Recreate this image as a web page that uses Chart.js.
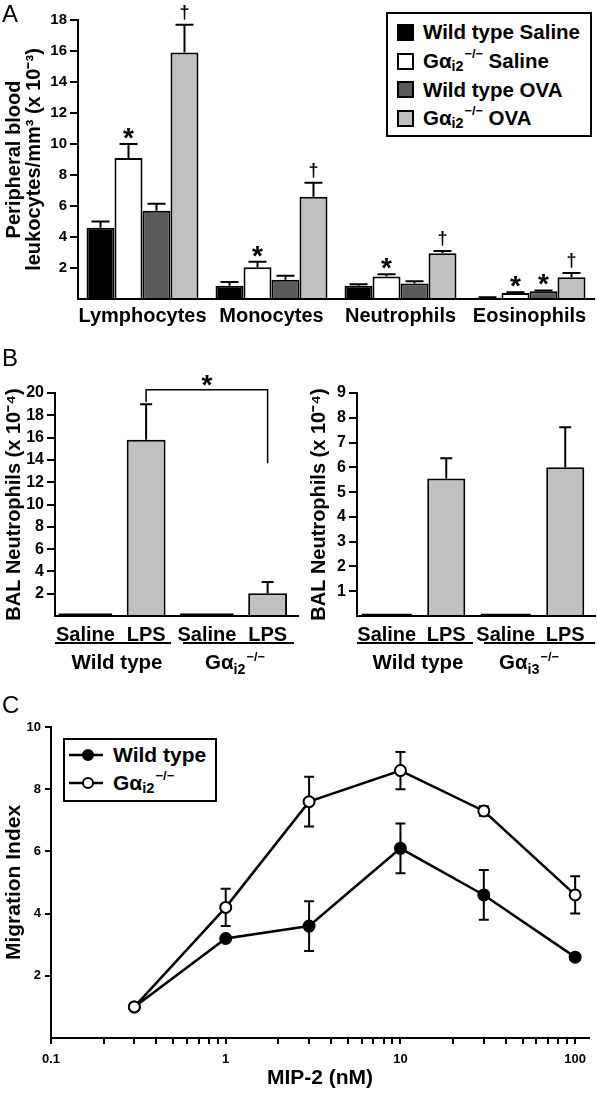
<!DOCTYPE html>
<html>
<head>
<meta charset="utf-8">
<script src="https://cdn.jsdelivr.net/npm/chart.js@4.4.1/dist/chart.umd.min.js"></script>
<style>
  body { margin: 0; background: #fff; }
  #page { position: relative; width: 597px; height: 1093px; overflow: hidden;
          font-family: 'Liberation Sans', Arial, Helvetica, sans-serif; font-weight: bold; color: #000; }
  canvas { position: absolute; }
  .t { position: absolute; white-space: nowrap; line-height: 1; }
  .c { transform: translateX(-50%); }
  .letter { font-weight: normal; font-size: 24px; line-height: 24px; }
  .rule { position: absolute; height: 2px; background: #000; }
  .legend { position: absolute; border: 2px solid #000; background: #fff; }
  .row { position: absolute; display: flex; align-items: center; white-space: nowrap; }
  .sw { display: inline-block; width: 13px; height: 13px; border: 2px solid #000; margin-right: 9px; }
  .sub { position: relative; top: 5px; font-size: 0.7em; }
  .sup { position: relative; top: -8px; font-size: 0.62em; margin-left: 1px; }
</style>
</head>
<body>
<div id="page">
  <canvas id="chartA" width="597" height="330" style="left:0;top:0"></canvas>
  <canvas id="chartB1" width="300" height="350" style="left:0;top:330px"></canvas>
  <canvas id="chartB2" width="297" height="350" style="left:300px;top:330px"></canvas>
  <canvas id="chartC" width="597" height="403" style="left:0;top:690px"></canvas>

  <div class="t letter" style="left:2px;top:2px">A</div>
  <div class="t letter" style="left:2px;top:346px">B</div>
  <div class="t letter" style="left:2px;top:693px">C</div>

  <div class="legend" style="left:386px;top:12px;width:202px;height:121px">
    <div class="row" style="left:9px;top:4px;height:28.7px;font-size:20.5px"><span class="sw" style="background:#000"></span>Wild type Saline</div>
    <div class="row" style="left:9px;top:32.7px;height:28.7px;font-size:20.5px"><span class="sw" style="background:#fff"></span>G<span>α</span><span class="sub">i2</span><span class="sup">−/−</span>&nbsp;Saline</div>
    <div class="row" style="left:9px;top:61.4px;height:28.7px;font-size:20.5px"><span class="sw" style="background:#5a5a5a"></span>Wild type OVA</div>
    <div class="row" style="left:9px;top:90.1px;height:28.7px;font-size:20.5px"><span class="sw" style="background:#c0c0c0"></span>G<span>α</span><span class="sub">i2</span><span class="sup">−/−</span>&nbsp;OVA</div>
  </div>

  <div class="rule" style="left:55px;top:642px;width:116px"></div>
  <div class="rule" style="left:183px;top:642px;width:111px"></div>
  <div class="rule" style="left:357px;top:642px;width:116px"></div>
  <div class="rule" style="left:484px;top:642px;width:111px"></div>
  <div class="t c" style="left:117px;top:652px;font-size:20.5px">Wild type</div>
  <div class="t c" style="left:235px;top:652px;font-size:20.5px">G<span>α</span><span class="sub">i2</span><span class="sup">−/−</span></div>
  <div class="t c" style="left:418px;top:652px;font-size:20.5px">Wild type</div>
  <div class="t c" style="left:529px;top:652px;font-size:20.5px">G<span>α</span><span class="sub">i3</span><span class="sup">−/−</span></div>

  <div class="legend" style="left:63px;top:738px;width:150px;height:60px">
    <div class="row" style="left:4px;top:1px;height:28px;font-size:21px">
      <svg width="36" height="14" style="margin-right:8px"><line x1="0" y1="7" x2="34" y2="7" stroke="#000" stroke-width="2.5"/><circle cx="19" cy="7" r="5" fill="#000" stroke="#000" stroke-width="2"/></svg>Wild type</div>
    <div class="row" style="left:4px;top:29px;height:28px;font-size:21px">
      <svg width="36" height="14" style="margin-right:8px"><line x1="0" y1="7" x2="34" y2="7" stroke="#000" stroke-width="2.5"/><circle cx="19" cy="7" r="5" fill="#fff" stroke="#000" stroke-width="2"/></svg>G<span>α</span><span class="sub">i2</span><span class="sup">−/−</span></div>
  </div>
</div>

<script>
// panel A: peripheral blood leukocytes (x 10^-3 / mm3)
const groups = ['Lymphocytes', 'Monocytes', 'Neutrophils', 'Eosinophils'];
const wtSaline = [4.6, 0.85, 0.85, 0.08];
const wtSalineSem = [0.4, 0.25, 0.1, 0.03];
const koSaline = [9.1, 2.05, 1.45, 0.38];
const koSalineSem = [0.9, 0.35, 0.15, 0.05];
const wtOva = [5.7, 1.25, 1.0, 0.5];
const wtOvaSem = [0.45, 0.25, 0.15, 0.05];
const koOva = [15.9, 6.6, 2.95, 1.4];
const koOvaSem = [1.8, 0.9, 0.15, 0.28];
const koSalineMarks = ['*', '*', '*', '*'];
const wtOvaMarks = ['', '', '', '*'];
const koOvaMarks = ['†', '†', '†', '†'];

// panel B: BAL neutrophils (x 10^-4)
const balLabels = ['Saline', 'LPS', 'Saline', 'LPS'];
const balI2 = [0.22, 15.8, 0.22, 2.05];
const balI2Sem = [0, 3.2, 0, 1.0];
const balI3 = [0.09, 5.55, 0.09, 6.0];
const balI3Sem = [0, 0.82, 0, 1.62];

// panel C: migration index vs MIP-2 (nM)
const doses = [0.3, 1, 3, 10, 30, 100];
const wtMigration = [1.0, 3.2, 3.6, 6.1, 4.6, 2.6];
const wtMigrationSem = [0, 0, 0.8, 0.8, 0.8, 0];
const koMigration = [1.0, 4.2, 7.6, 8.6, 7.3, 4.6];
const koMigrationSem = [0, 0.6, 0.8, 0.6, 0.15, 0.6];

const FONT = "'Liberation Sans', Arial, Helvetica, sans-serif";
Chart.defaults.font.family = FONT;
Chart.defaults.font.weight = 'bold';
Chart.defaults.color = '#000';

function valueOf(v) {
  return (v !== null && typeof v === 'object') ? v.y : v;
}

function drawErrors(chart, mode) {
  const ctx = chart.ctx;
  const y = chart.scales.y;
  chart.data.datasets.forEach((ds, di) => {
    if (!ds.sem || (ds.errMode || 'up') !== mode) return;
    const meta = chart.getDatasetMeta(di);
    meta.data.forEach((el, i) => {
      const v = valueOf(ds.data[i]);
      const s = ds.sem[i];
      if (v == null || !s) return;
      const cap = ds.capHalf || 6;
      const top = y.getPixelForValue(v + s);
      const bottom = y.getPixelForValue(mode === 'both' ? v - s : v);
      ctx.save();
      ctx.strokeStyle = '#000';
      ctx.lineWidth = 2;
      ctx.beginPath();
      ctx.moveTo(el.x, top);
      ctx.lineTo(el.x, bottom);
      ctx.moveTo(el.x - cap, top);
      ctx.lineTo(el.x + cap, top);
      if (mode === 'both') {
        ctx.moveTo(el.x - cap, bottom);
        ctx.lineTo(el.x + cap, bottom);
      }
      ctx.stroke();
      ctx.restore();
    });
  });
}

const errorBars = {
  id: 'errorBars',
  beforeDatasetsDraw(chart) { drawErrors(chart, 'both'); },
  afterDatasetsDraw(chart) { drawErrors(chart, 'up'); }
};

const sigMarks = {
  id: 'sigMarks',
  afterDatasetsDraw(chart) {
    const ctx = chart.ctx;
    const y = chart.scales.y;
    chart.data.datasets.forEach((ds, di) => {
      if (!ds.marks) return;
      const meta = chart.getDatasetMeta(di);
      meta.data.forEach((el, i) => {
        const m = ds.marks[i];
        if (!m) return;
        const centre = y.getPixelForValue(ds.data[i] + (ds.sem ? ds.sem[i] : 0)) - 13;
        ctx.save();
        ctx.textAlign = 'center';
        ctx.textBaseline = 'alphabetic';
        if (m === '*') {
          ctx.font = 'bold 28px ' + FONT;
          ctx.fillText(m, el.x, centre + 16);
        } else {
          ctx.font = 'bold 18px ' + FONT;
          ctx.fillText(m, el.x, centre + 6);
        }
        ctx.restore();
      });
    });
  }
};

const bracket = {
  id: 'bracket',
  afterDatasetsDraw(chart, args, opts) {
    if (opts.from === undefined) return;
    const ctx = chart.ctx;
    const x = chart.scales.x;
    const y = chart.scales.y;
    const x1 = x.getPixelForValue(opts.from);
    const x2 = x.getPixelForValue(opts.to);
    const top = y.getPixelForValue(opts.top);
    ctx.save();
    ctx.strokeStyle = '#000';
    ctx.lineWidth = 1.5;
    ctx.beginPath();
    ctx.moveTo(x1, y.getPixelForValue(opts.leftEnd));
    ctx.lineTo(x1, top);
    ctx.lineTo(x2, top);
    ctx.lineTo(x2, y.getPixelForValue(opts.rightEnd));
    ctx.stroke();
    ctx.font = 'bold 28px ' + FONT;
    ctx.textAlign = 'center';
    ctx.fillText(opts.mark, (x1 + x2) / 2, top - 12 + 16);
    ctx.restore();
  }
};

function yAxis(max, step, width, title, titleFont, titlePad, tickFont) {
  return {
    min: 0,
    max: max,
    afterFit(scale) { scale.width = width; },
    border: { display: true, color: '#000', width: 2 },
    grid: {
      drawOnChartArea: false,
      drawTicks: true,
      tickLength: 8,
      lineWidth: 2,
      tickColor: (c) => (c.tick && c.tick.value === 0) ? 'rgba(0,0,0,0)' : '#000'
    },
    ticks: {
      stepSize: step,
      padding: 3,
      font: { size: tickFont, weight: 'bold' },
      callback: (v) => v === 0 ? '' : v
    },
    title: {
      display: true,
      text: title,
      font: titleFont,
      padding: { top: titlePad, bottom: 0 }
    }
  };
}

const baseOptions = {
  responsive: false,
  devicePixelRatio: 1,
  animation: false,
  events: [],
  plugins: { legend: { display: false }, tooltip: { enabled: false } }
};

// ---- panel A
new Chart(document.getElementById('chartA').getContext('2d'), {
  type: 'bar',
  data: {
    labels: groups,
    datasets: [
      { data: wtSaline, sem: wtSalineSem, backgroundColor: '#000', capHalf: 9 },
      { data: koSaline, sem: koSalineSem, marks: koSalineMarks, backgroundColor: '#fff', capHalf: 9 },
      { data: wtOva, sem: wtOvaSem, marks: wtOvaMarks, backgroundColor: '#5a5a5a', capHalf: 9 },
      { data: koOva, sem: koOvaSem, marks: koOvaMarks, backgroundColor: '#c0c0c0', capHalf: 9 }
    ]
  },
  options: {
    ...baseOptions,
    layout: { padding: { top: 20, right: 3, left: 0, bottom: 0 } },
    datasets: {
      bar: { borderColor: '#000', borderWidth: 2, categoryPercentage: 0.868, barPercentage: 1 }
    },
    scales: {
      x: {
        afterFit(scale) { scale.height = 31; },
        border: { display: true, color: '#000', width: 2 },
        grid: { display: false, drawTicks: false },
        ticks: { padding: 5, maxRotation: 0, autoSkip: false, font: { size: 20, weight: 'bold' } }
      },
      y: yAxis(18, 2, 78, ['Peripheral blood', 'leukocytes/mm³ (x 10⁻³)'],
        { size: 20, weight: 'bold', lineHeight: 1.0 }, 4, 15)
    }
  },
  plugins: [errorBars, sigMarks]
});

// ---- panel B
function balChart(id, values, sem, max, step, width, titlePad, wide, extra) {
  const saline = values.map((v, i) => balLabels[i] === 'Saline' ? v : null);
  const lps = values.map((v, i) => balLabels[i] === 'LPS' ? v : null);
  const salineSem = sem.map((v, i) => balLabels[i] === 'Saline' ? v : 0);
  const lpsSem = sem.map((v, i) => balLabels[i] === 'LPS' ? v : 0);
  return new Chart(document.getElementById(id).getContext('2d'), {
    type: 'bar',
    data: {
      labels: balLabels,
      datasets: [
        { data: saline, sem: salineSem, backgroundColor: '#000', borderWidth: 0, barPercentage: wide, capHalf: 6 },
        { data: lps, sem: lpsSem, backgroundColor: '#c0c0c0', borderWidth: 2, barPercentage: 0.64, capHalf: 6 }
      ]
    },
    options: {
      ...baseOptions,
      layout: { padding: { top: 63, right: 2, left: 0, bottom: 0 } },
      datasets: {
        bar: { grouped: false, borderColor: '#000', categoryPercentage: 1, skipNull: true }
      },
      plugins: { ...baseOptions.plugins, bracket: extra || {} },
      scales: {
        x: {
          afterFit(scale) { scale.height = 64; },
          border: { display: true, color: '#000', width: 2 },
          grid: { display: false, drawTicks: false },
          ticks: { padding: 7, maxRotation: 0, autoSkip: false, font: { size: 20, weight: 'bold' } }
        },
        y: yAxis(max, step, width, 'BAL Neutrophils (x 10⁻⁴)',
          { size: 20, weight: 'bold', lineHeight: 1.2 }, titlePad, 16)
      }
    },
    plugins: [errorBars, bracket]
  });
}

balChart('chartB1', balI2, balI2Sem, 20, 2, 55, 2, 0.88,
  { from: 1, to: 3, top: 20.3, leftEnd: 19.2, rightEnd: 13.7, mark: '*' });
balChart('chartB2', balI3, balI3Sem, 9, 1, 57, 7, 0.84, null);

// ---- panel C
function isDecade(v) {
  const l = Math.log10(v);
  return Math.abs(l - Math.round(l)) < 1e-9;
}

new Chart(document.getElementById('chartC').getContext('2d'), {
  type: 'line',
  data: {
    datasets: [
      {
        label: 'Wild type',
        data: doses.map((d, i) => ({ x: d, y: wtMigration[i] })),
        sem: wtMigrationSem, errMode: 'both', capHalf: 5,
        borderColor: '#000', pointBorderColor: '#000',
        backgroundColor: '#000', pointBackgroundColor: '#000', order: 1
      },
      {
        label: 'Gαi2−/−',
        data: doses.map((d, i) => ({ x: d, y: koMigration[i] })),
        sem: koMigrationSem, errMode: 'both', capHalf: 5,
        borderColor: '#000', pointBorderColor: '#000',
        backgroundColor: '#fff', pointBackgroundColor: '#fff', order: 0
      }
    ]
  },
  options: {
    ...baseOptions,
    layout: { padding: { top: 37, right: 2, left: 0, bottom: 0 } },
    datasets: {
      line: { borderWidth: 2.5, tension: 0, pointRadius: 5.5, pointBorderWidth: 2 }
    },
    scales: {
      x: {
        type: 'logarithmic',
        min: 0.1,
        max: 120,
        afterFit(scale) { scale.height = 55; },
        border: { display: true, color: '#000', width: 2 },
        grid: {
          drawOnChartArea: false,
          drawTicks: true,
          tickLength: 6,
          lineWidth: 2,
          tickColor: (c) => {
            if (!c.tick) return '#000';
            const m = c.tick.value / Math.pow(10, Math.floor(Math.log10(c.tick.value) + 1e-9));
            return Math.abs(m - Math.round(m)) < 1e-6 ? '#000' : 'rgba(0,0,0,0)';
          }
        },
        ticks: {
          autoSkip: false,
          maxRotation: 0,
          padding: 8,
          font: { size: 13, weight: 'bold' },
          callback: (v) => isDecade(v) ? String(v) : ''
        },
        title: {
          display: true,
          text: 'MIP-2 (nM)',
          font: { size: 21, weight: 'bold', lineHeight: 1.2 },
          padding: { top: 0, bottom: 2 }
        }
      },
      y: {
        min: 0,
        max: 10,
        afterFit(scale) { scale.width = 51; },
        border: { display: true, color: '#000', width: 2 },
        grid: {
          drawOnChartArea: false,
          drawTicks: true,
          tickLength: 6,
          lineWidth: 2,
          tickColor: (c) => (c.tick && c.tick.value === 0) ? 'rgba(0,0,0,0)' : '#000'
        },
        ticks: {
          stepSize: 2,
          padding: 4,
          font: { size: 13, weight: 'bold' },
          callback: (v) => v === 0 ? '' : v
        },
        title: {
          display: true,
          text: 'Migration Index',
          font: { size: 21, weight: 'bold', lineHeight: 1.2 },
          padding: { top: 2, bottom: 0 }
        }
      }
    }
  },
  plugins: [errorBars]
});
</script>
</body>
</html>
